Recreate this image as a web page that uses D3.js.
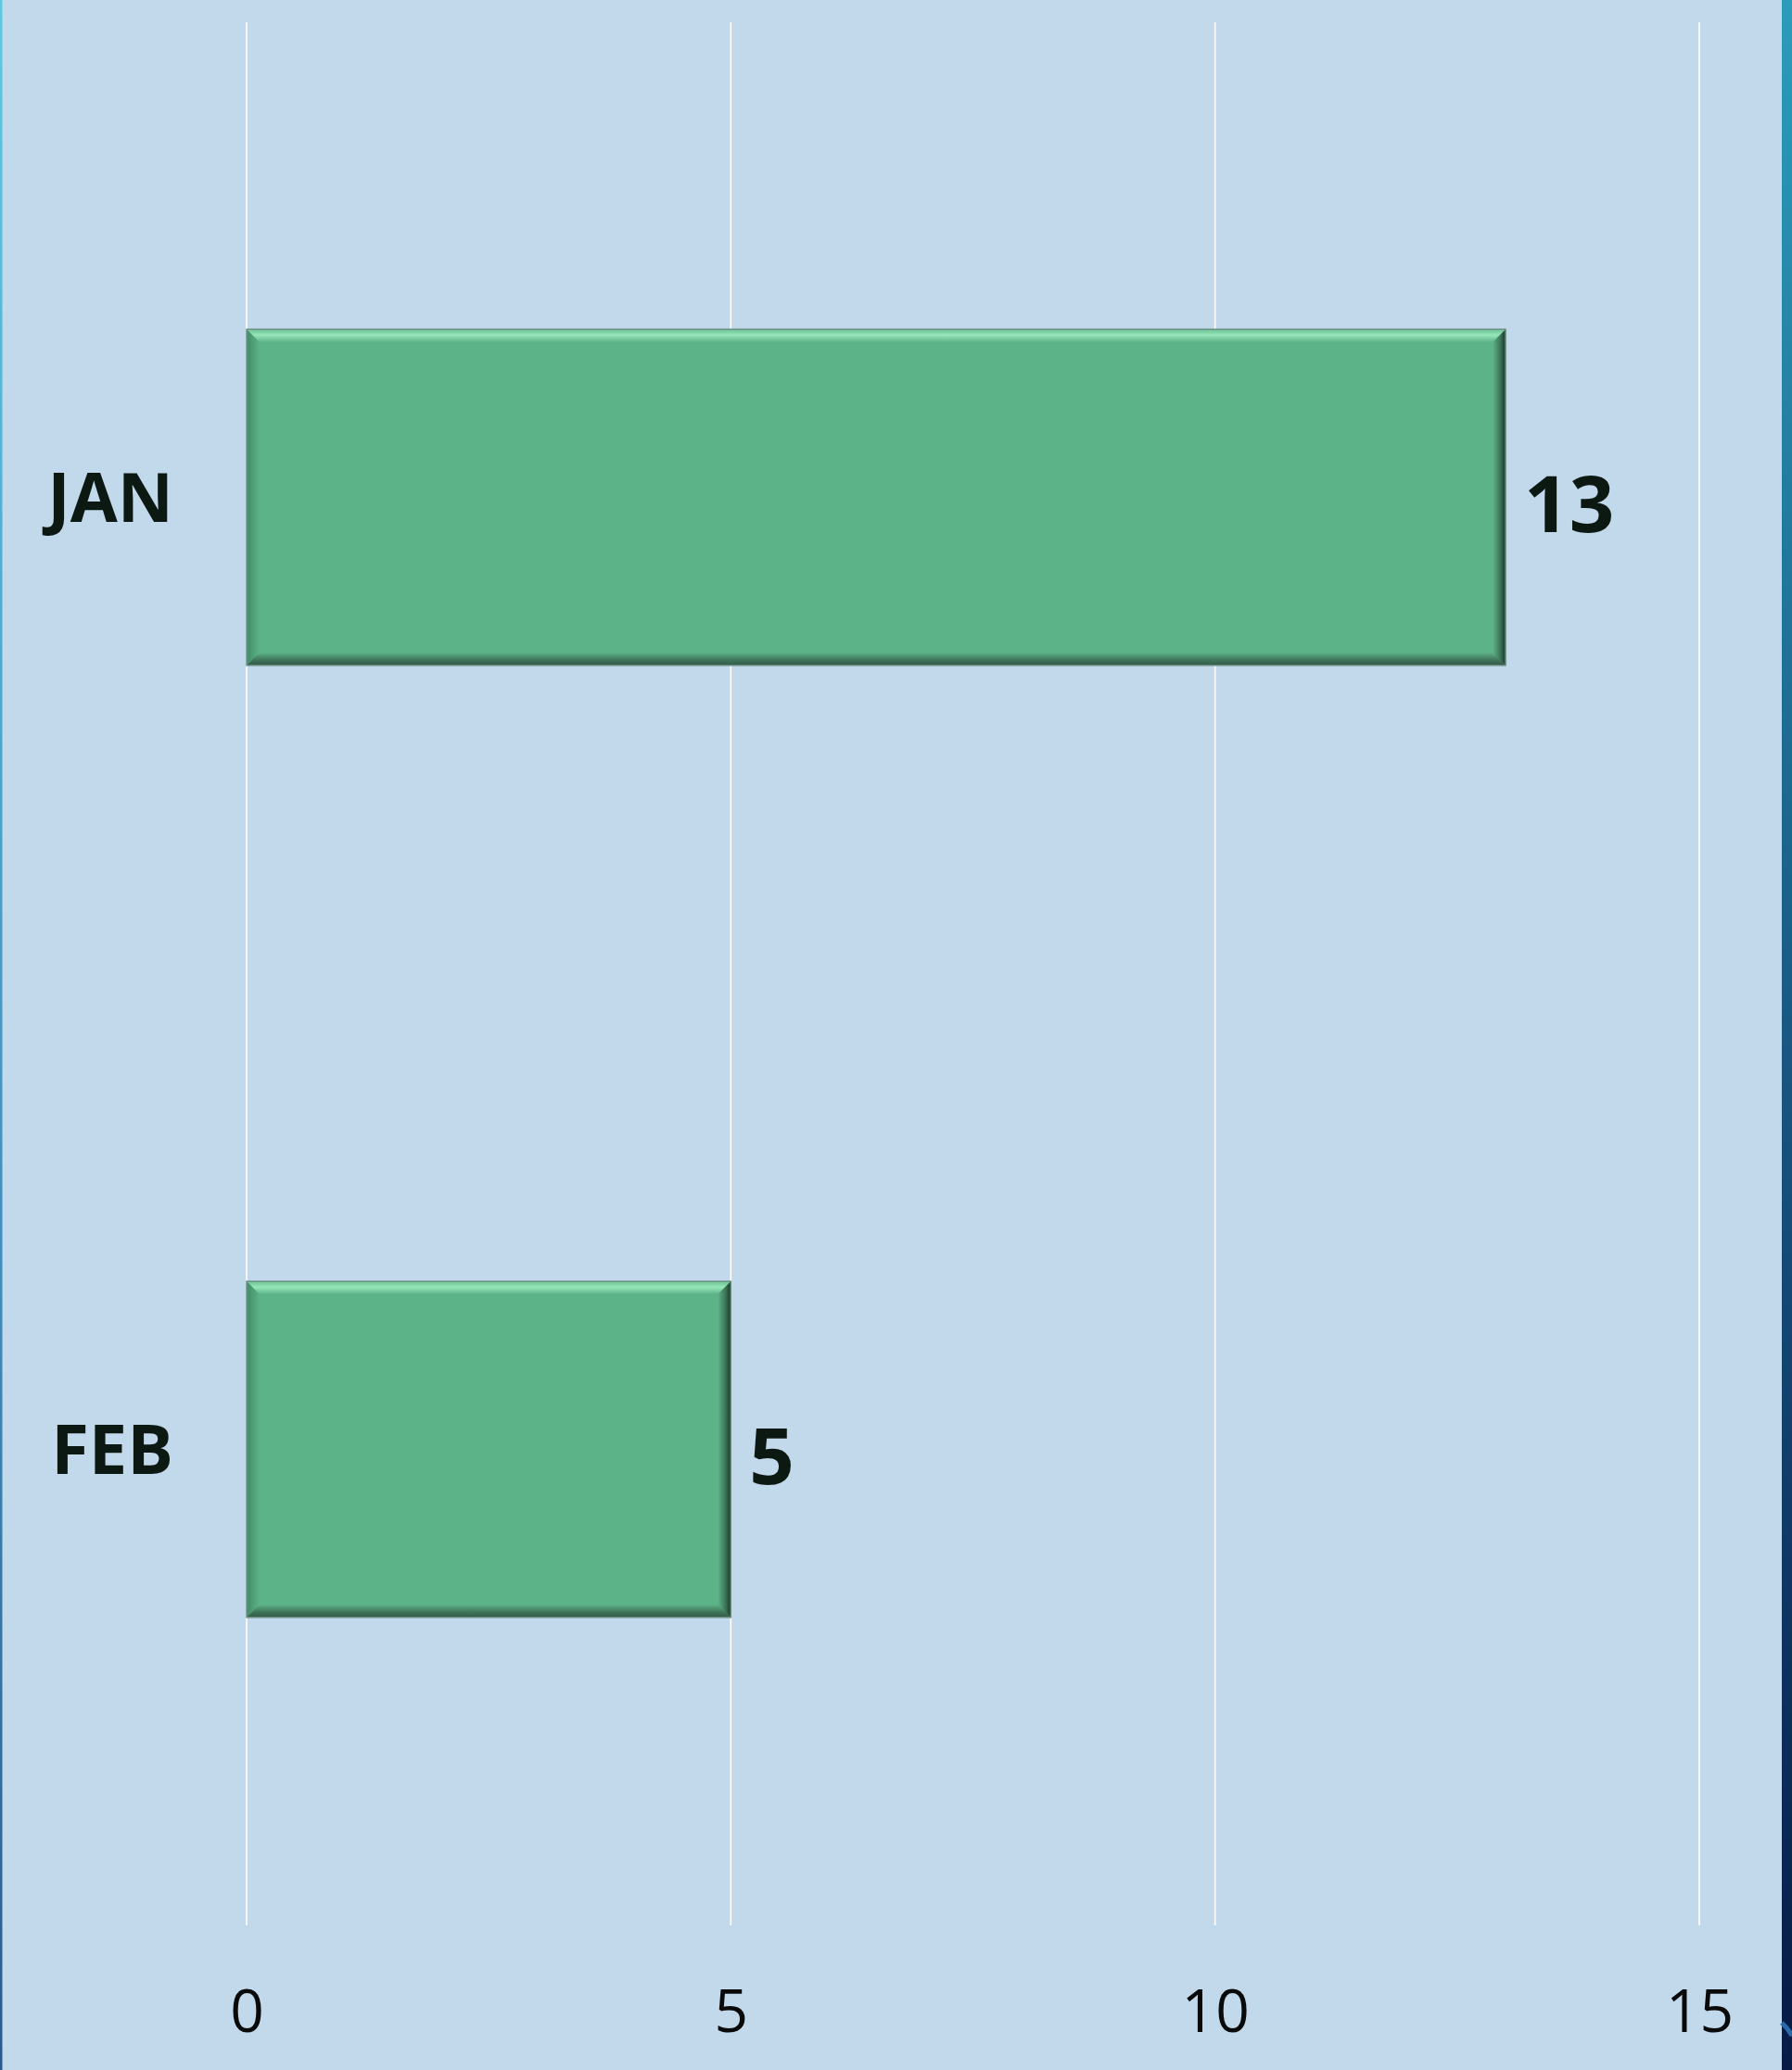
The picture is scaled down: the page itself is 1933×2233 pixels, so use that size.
<!DOCTYPE html>
<html><head><meta charset="utf-8">
<script src="https://cdn.jsdelivr.net/npm/d3@7"></script>
<style>html,body{margin:0;padding:0;background:#c2d8eb;overflow:hidden}</style>
</head><body>
<script>
const categories = ["JAN", "FEB"];
const values = [13, 5];
const tickValues = [0, 5, 10, 15];

const W = 1933, H = 2233;
const svg = d3.select("body").append("svg").attr("width", W).attr("height", H);
const defs = svg.append("defs");

function grad(id, x2, y2, stops) {
  const g = defs.append("linearGradient").attr("id", id)
    .attr("x1", 0).attr("y1", 0).attr("x2", x2).attr("y2", y2);
  stops.forEach(s => g.append("stop").attr("offset", s[0]).attr("stop-color", s[1]));
}
grad("rightBorder", 0, 1, [[0, "#2b9cbc"], [0.45, "#1a5f88"], [0.75, "#0f3866"], [1, "#061a45"]]);
grad("leftBorder", 0, 1, [[0, "#5cc9e2"], [0.6, "#3f8fc0"], [1, "#2a5a8e"]]);
grad("bevTop", 0, 1, [[0, "#6cc193"], [0.45, "#96e6b9"], [1, "#5db388"]]);
grad("bevLeft", 1, 0, [[0, "#3f8b65"], [1, "#5db388"]]);
grad("bevRight", 1, 0, [[0, "#5db388"], [0.6, "#3b7458"], [1, "#1b3529"]]);
grad("bevBottom", 0, 1, [[0, "#5db388"], [0.6, "#3f735a"], [1, "#325a47"]]);

svg.append("rect").attr("width", W).attr("height", H).attr("fill", "#c2d8eb");
svg.append("rect").attr("x", 0).attr("y", 0).attr("width", 2.5).attr("height", H).attr("fill", "url(#leftBorder)");
svg.append("rect").attr("x", 1922).attr("y", 0).attr("width", 11).attr("height", H).attr("fill", "url(#rightBorder)");
svg.append("path").attr("d", "M1922,2182 A60,60 0 0 1 1933,2196").attr("fill", "none")
  .attr("stroke", "#2a6aa8").attr("stroke-width", 5);

const x = d3.scaleLinear().domain([0, 15]).range([266, 1833]);
const y = d3.scaleBand().domain(categories).range([23, 2077]).paddingInner(0.647).paddingOuter(0.3235);

// gridlines
svg.append("g").selectAll("line").data(tickValues).join("line")
  .attr("x1", d => x(d)).attr("x2", d => x(d))
  .attr("y1", 24).attr("y2", 2077)
  .attr("stroke", "#ffffff").attr("stroke-width", 1.6);

// x axis labels
const axis = svg.append("g").attr("transform", "translate(0,2145)")
  .call(d3.axisBottom(x).tickValues(tickValues).tickSize(0).tickPadding(0));
axis.select(".domain").remove();
axis.selectAll("text").attr("font-family", "'Open Sans', 'Noto Sans', sans-serif")
  .attr("font-size", 64).attr("fill", "#0a0a0a").attr("dy", "0.71em").attr("y", 2);

// bars with bevel
const b = 14;
const data = categories.map((c, i) => ({ c, v: values[i] }));
const bars = svg.append("g").selectAll("g").data(data).join("g");
bars.append("rect")
  .attr("x", d => x(0)).attr("y", d => y(d.c))
  .attr("width", d => x(d.v) - x(0)).attr("height", y.bandwidth())
  .attr("fill", "#5db388");
bars.append("polygon").attr("fill", "url(#bevTop)").attr("points", d => {
  const x0 = x(0), x1 = x(d.v), y0 = y(d.c);
  return [[x0, y0], [x1, y0], [x1 - b, y0 + b], [x0 + b, y0 + b]].join(" ");
});
bars.append("polygon").attr("fill", "url(#bevLeft)").attr("points", d => {
  const x0 = x(0), y0 = y(d.c), y1 = y0 + y.bandwidth();
  return [[x0, y0], [x0 + b, y0 + b], [x0 + b, y1 - b], [x0, y1]].join(" ");
});
bars.append("polygon").attr("fill", "url(#bevBottom)").attr("points", d => {
  const x0 = x(0), x1 = x(d.v), y1 = y(d.c) + y.bandwidth();
  return [[x0, y1], [x0 + b, y1 - b], [x1 - b, y1 - b], [x1, y1]].join(" ");
});
bars.append("polygon").attr("fill", "url(#bevRight)").attr("points", d => {
  const x1 = x(d.v), y0 = y(d.c), y1 = y0 + y.bandwidth();
  return [[x1, y0], [x1, y1], [x1 - b, y1 - b], [x1 - b, y0 + b]].join(" ");
});
bars.append("rect")
  .attr("x", d => x(0)).attr("y", d => y(d.c))
  .attr("width", d => x(d.v) - x(0)).attr("height", y.bandwidth())
  .attr("fill", "none").attr("stroke", "#6d8f83").attr("stroke-width", 1.5);

// value labels
svg.append("g").selectAll("text").data(data).join("text")
  .attr("x", d => x(d.v) + 20)
  .attr("y", d => y(d.c) + y.bandwidth() / 2 + 37)
  .attr("font-family", "'Open Sans', 'Noto Sans', sans-serif")
  .attr("font-weight", "bold").attr("font-size", 85).attr("fill", "#0c1912")
  .text(d => d.v);

// category labels
svg.append("g").selectAll("text").data(categories).join("text")
  .attr("x", 187)
  .attr("y", d => y(d) + y.bandwidth() / 2 + 26.5)
  .attr("text-anchor", "end")
  .attr("font-family", "'Open Sans', 'Noto Sans', sans-serif")
  .attr("font-weight", "bold").attr("font-size", 74).attr("fill", "#0c1912")
  .text(d => d);
</script>
</body></html>
